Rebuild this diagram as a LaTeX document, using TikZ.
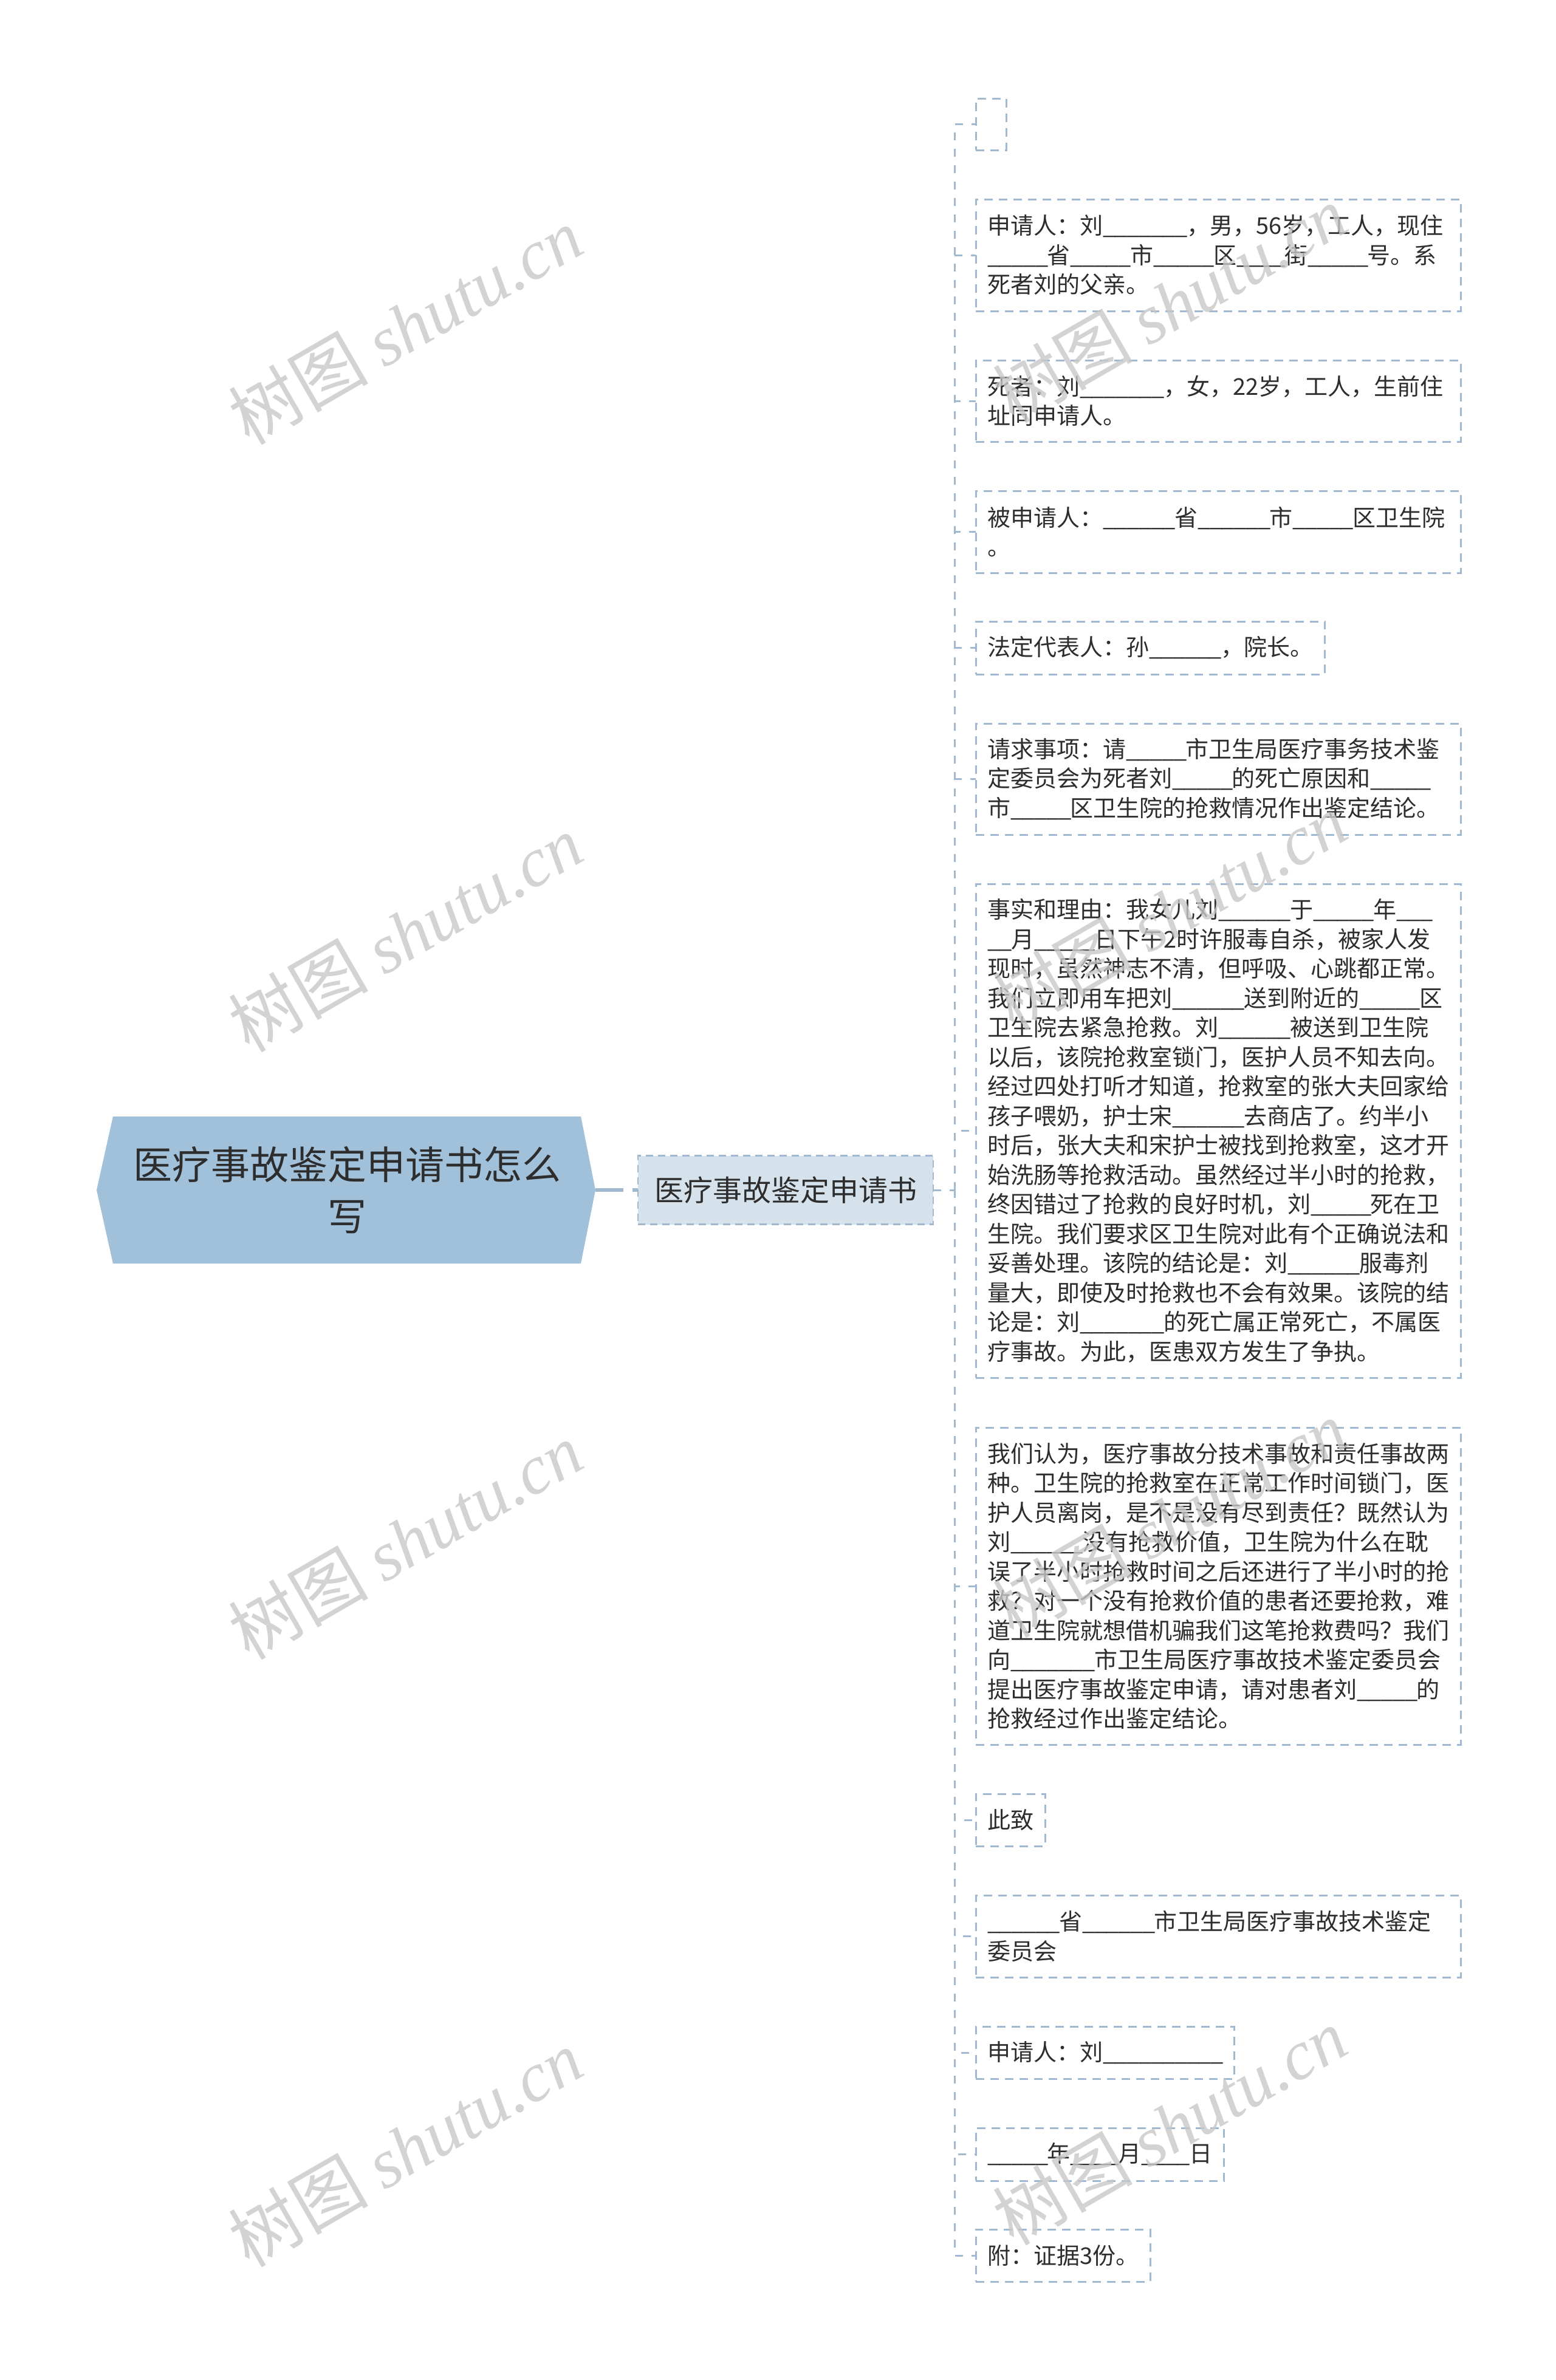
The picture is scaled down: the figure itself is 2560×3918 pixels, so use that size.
\documentclass[tikz,border=0pt]{standalone}
\usepackage{fontspec}
\setmainfont{Noto Sans CJK SC}
\newfontfamily\wmlatin{Liberation Serif}
\usetikzlibrary{calc,backgrounds}
\definecolor{linec}{RGB}{160,185,208}
\definecolor{rootfill}{RGB}{161,192,218}
\definecolor{childfill}{RGB}{214,226,235}
\definecolor{txt}{RGB}{45,45,45}
\definecolor{wmc}{RGB}{200,200,200}
\tikzset{
  leaf/.style={draw=linec, line width=3pt, dash pattern=on 14pt off 10pt,
    inner xsep=19pt, inner ysep=0pt, outer sep=0pt, anchor=west, text=txt,
    font=\fontsize{38}{48.5}\selectfont},
  leafwide/.style={leaf, text width=760pt, align=left},
  spine/.style={draw=linec, line width=3pt, dash pattern=on 13pt off 14pt},
  rootnode/.style={draw=none, inner sep=0pt, outer sep=0pt, text=txt,
    minimum width=770pt, minimum height=242pt, align=center,
    font=\fontsize{64}{85}\selectfont},
  childnode/.style={draw=linec, fill=childfill, line width=2.5pt,
    dash pattern=on 12pt off 8pt, inner sep=0pt, outer sep=0pt, text=txt,
    minimum width=486pt, minimum height=113pt,
    font=\fontsize{48}{56}\selectfont},
  rootconn/.style={draw=linec, line width=6pt, dash pattern=on 46pt off 15pt},
  wm/.style={text=wmc, opacity=0.8, inner sep=0pt, rotate=30,
    font=\fontsize{115}{120}\selectfont}
}
\newcommand\myusc{\char95\kern-1.5pt\relax}
\begingroup\lccode`\~=`\_ \lowercase{\endgroup\def~{\myusc}}
\begin{document}
\catcode`\_=\active
\begin{tikzpicture}[x=1pt,y=-1pt]
\useasboundingbox (0,0) rectangle (2560,3918);

% root and main child
\node[rootnode] (root) at (571,1959) {医疗事故鉴定申请书怎么\\写};
\node[childnode] (child) at (1293,1959) {医疗事故鉴定申请书};

\begin{scope}[on background layer]
  \fill[white] (0,0) rectangle (2560,3918);
  \fill[rootfill] (root.north west) -- (root.north east) -- ($(root.east)+(24,0)$)
    -- (root.south east) -- (root.south west) -- ($(root.west)+(-27,0)$) -- cycle;
\end{scope}

\draw[rootconn] ($(root.east)+(24,0)$) -- (child.west);

\coordinate (j) at (1571,1959);
\draw[spine] (child.east) -- (j);

% leaves
\node[leaf, minimum width=50pt, minimum height=85pt, inner xsep=0pt] (b0) at (1606,204.5) {};

\node[leafwide, minimum height=184pt] (b1) at (1606,420) {%
申请人：刘_______，男，56岁，工人，现住\\%
_____省_____市_____区____街_____号。系\\%
死者刘的父亲。};

\node[leafwide, minimum height=134pt] (b2) at (1606,660) {%
死者：刘_______，女，22岁，工人，生前住\\%
址同申请人。};

\node[leafwide, minimum height=135pt] (b3) at (1606,875.5) {%
被申请人：______省______市_____区卫生院\\%
。};

\node[leaf, minimum height=87pt] (b4) at (1606,1066.5) {法定代表人：孙______，院长。};

\node[leafwide, minimum height=183pt] (b5) at (1606,1282.5) {%
请求事项：请_____市卫生局医疗事务技术鉴\\%
定委员会为死者刘_____的死亡原因和_____\\%
市_____区卫生院的抢救情况作出鉴定结论。};

\node[leafwide, minimum height=813pt] (b6) at (1606,1861.5) {%
事实和理由：我女儿刘______于_____年___\\%
__月_____日下午2时许服毒自杀，被家人发\\%
现时，虽然神志不清，但呼吸、心跳都正常。\\%
我们立即用车把刘______送到附近的_____区\\%
卫生院去紧急抢救。刘______被送到卫生院\\%
以后，该院抢救室锁门，医护人员不知去向。\\%
经过四处打听才知道，抢救室的张大夫回家给\\%
孩子喂奶，护士宋______去商店了。约半小\\%
时后，张大夫和宋护士被找到抢救室，这才开\\%
始洗肠等抢救活动。虽然经过半小时的抢救，\\%
终因错过了抢救的良好时机，刘_____死在卫\\%
生院。我们要求区卫生院对此有个正确说法和\\%
妥善处理。该院的结论是：刘______服毒剂\\%
量大，即使及时抢救也不会有效果。该院的结\\%
论是：刘_______的死亡属正常死亡，不属医\\%
疗事故。为此，医患双方发生了争执。};

\node[leafwide, minimum height=522pt] (b7) at (1606,2611) {%
我们认为，医疗事故分技术事故和责任事故两\\%
种。卫生院的抢救室在正常工作时间锁门，医\\%
护人员离岗，是不是没有尽到责任？既然认为\\%
刘______没有抢救价值，卫生院为什么在耽\\%
误了半小时抢救时间之后还进行了半小时的抢\\%
救？对一个没有抢救价值的患者还要抢救，难\\%
道卫生院就想借机骗我们这笔抢救费吗？我们\\%
向_______市卫生局医疗事故技术鉴定委员会\\%
提出医疗事故鉴定申请，请对患者刘_____的\\%
抢救经过作出鉴定结论。};

\node[leaf, minimum height=86pt] (b8) at (1606,2996) {此致};

\node[leafwide, minimum height=135pt] (b9) at (1606,3187.5) {%
______省______市卫生局医疗事故技术鉴定\\%
委员会};

\node[leaf, minimum height=86pt] (b10) at (1606,3379) {申请人：刘__________};

\node[leaf, minimum height=87pt] (b11) at (1606,3546.5) {_____年____月____日};

\node[leaf, minimum height=86pt] (b12) at (1606,3713) {附：证据3份。};

% connectors from the junction on the spine
\foreach \b in {b0,b1,b2,b3,b4,b5,b6,b7,b8,b9,b10,b11,b12}{
  \draw[spine] (j) |- (\b.west);
}

% watermarks
\node[wm] (wm1) at (667,536) {树图 {\wmlatin\itshape shutu.cn}};
\node[wm] (wm2) at (667,1536) {树图 {\wmlatin\itshape shutu.cn}};
\node[wm] (wm3) at (667,2536) {树图 {\wmlatin\itshape shutu.cn}};
\node[wm] (wm4) at (667,3536) {树图 {\wmlatin\itshape shutu.cn}};
\node[wm] (wm5) at (1925,500) {树图 {\wmlatin\itshape shutu.cn}};
\node[wm] (wm6) at (1925,1500) {树图 {\wmlatin\itshape shutu.cn}};
\node[wm] (wm7) at (1925,2500) {树图 {\wmlatin\itshape shutu.cn}};
\node[wm] (wm8) at (1925,3500) {树图 {\wmlatin\itshape shutu.cn}};
\end{tikzpicture}
\end{document}
